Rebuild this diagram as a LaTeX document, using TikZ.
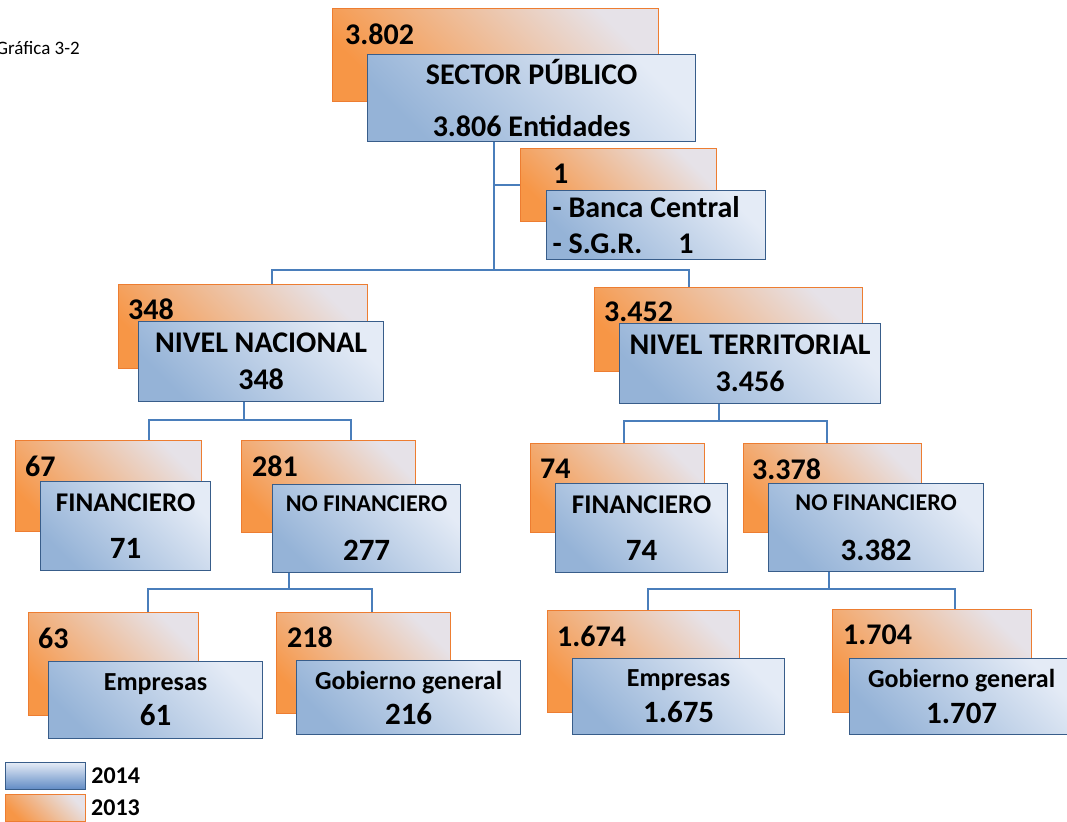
\documentclass[tikz,border=0pt]{standalone}
\usepackage{fontspec}
\setmainfont{Carlito}
\usetikzlibrary{positioning}
\definecolor{azulosc}{RGB}{149,179,215}
\definecolor{azulcla}{RGB}{228,235,246}
\definecolor{azulley}{RGB}{95,138,196}
\definecolor{azulbor}{RGB}{56,93,138}
\definecolor{naranjaosc}{RGB}{247,150,70}
\definecolor{naranjacla}{RGB}{230,226,232}
\definecolor{naranjabor}{RGB}{237,125,49}
\definecolor{linea}{RGB}{74,126,187}
\newcommand{\letra}[2]{\fontsize{#1}{#2}\selectfont\bfseries}
\tikzset{
  caja2014/.style={draw=azulbor, line width=1.2pt, top color=azulcla, bottom color=azulosc,
    shading angle=-45, anchor=north west, inner sep=0pt, align=center},
  caja2013/.style={draw=naranjabor, line width=1pt, top color=naranjacla, bottom color=naranjaosc,
    shading angle=-45, anchor=north west, inner sep=0pt},
  valor/.style={inner sep=0pt, font=\letra{30}{30}},
  conector/.style={draw=linea, line width=2pt}
}
\begin{document}
\begin{tikzpicture}[x=1pt,y=-1pt]
  \useasboundingbox (0,0) rectangle (1067,821);
  %titulo
  \node[anchor=west, inner sep=0pt, font=\fontsize{19}{19}\selectfont] (titulo) at (-4,48) {Gráfica 3-2};
  %puntos de union
  \coordinate (j0) at (494,270);
  \coordinate (j1) at (244,420);
  \coordinate (j2) at (719,421);
  \coordinate (j3) at (289,589);
  \coordinate (j4) at (829,589);
  %sector publico
  \node[caja2013, minimum width=326pt, minimum height=93pt] (o0) at (332,8) {};
  \node[valor, below right=16pt and 13pt of o0.north west] (v0) {3.802};
  \node[caja2014, minimum width=328pt, minimum height=87pt, font=\letra{30}{52}] (b0) at (367,54)
    {SECTOR PÚBLICO\\3.806 Entidades};
  %banca central
  \node[caja2013, minimum width=196pt, minimum height=73pt] (o1) at (520,148) {};
  \node[valor, below right=16pt and 33pt of o1.north west] (v1) {1};
  \node[caja2014, minimum width=219pt, minimum height=69pt, text width=207pt, inner xsep=6pt,
    align=flush left, font=\letra{30}{36}] (b1) at (546,190) {- Banca Central\\- S.G.R.\hspace*{36pt}1};
  %nivel nacional
  \node[caja2013, minimum width=249pt, minimum height=84pt] (o2) at (118,284) {};
  \node[valor, below right=15pt and 10pt of o2.north west] (v2) {348};
  \node[caja2014, minimum width=245pt, minimum height=80pt, font=\letra{30}{37}] (b2) at (138,321)
    {NIVEL NACIONAL\\348};
  %nivel territorial
  \node[caja2013, minimum width=268pt, minimum height=84pt] (o3) at (594,287) {};
  \node[valor, below right=15pt and 10pt of o3.north west] (v3) {3.452};
  \node[caja2014, minimum width=261pt, minimum height=80pt, font=\letra{30}{37}] (b3) at (619,323)
    {NIVEL TERRITORIAL\\3.456};
  %financiero nacional
  \node[caja2013, minimum width=186pt, minimum height=91pt] (o4) at (15,440) {};
  \node[valor, below right=16pt and 10pt of o4.north west] (v4) {67};
  \node[caja2014, minimum width=170pt, minimum height=89pt, font=\letra{31}{47}] (b4) at (40,481)
    {{\letra{27}{47}FINANCIERO}\\71};
  %no financiero nacional
  \node[caja2013, minimum width=174pt, minimum height=92pt] (o5) at (241,440) {};
  \node[valor, below right=16pt and 11pt of o5.north west] (v5) {281};
  \node[caja2014, minimum width=188pt, minimum height=88pt, font=\letra{31}{49}] (b5) at (272,484)
    {{\letra{24}{49}NO FINANCIERO}\\277};
  %financiero territorial
  \node[caja2013, minimum width=174pt, minimum height=89pt] (o6) at (530,443) {};
  \node[valor, below right=16pt and 10pt of o6.north west] (v6) {74};
  \node[caja2014, minimum width=172pt, minimum height=89pt, font=\letra{31}{47}] (b6) at (555,483)
    {{\letra{27}{47}FINANCIERO}\\74};
  %no financiero territorial
  \node[caja2013, minimum width=178pt, minimum height=89pt] (o7) at (743,443) {};
  \node[valor, below right=16pt and 9pt of o7.north west] (v7) {3.378};
  \node[caja2014, minimum width=215pt, minimum height=88pt, font=\letra{31}{50}] (b7) at (768,483)
    {{\letra{24}{50}NO FINANCIERO}\\3.382};
  %empresas nacional
  \node[caja2013, minimum width=170pt, minimum height=103pt] (o8) at (28,612) {};
  \node[valor, below right=16pt and 10pt of o8.north west] (v8) {63};
  \node[caja2014, minimum width=214pt, minimum height=77pt, font=\letra{31}{35}] (b8) at (48,661)
    {{\letra{26}{35}Empresas}\\61};
  %gobierno nacional
  \node[caja2013, minimum width=174pt, minimum height=101pt] (o9) at (276,612) {};
  \node[valor, below right=15pt and 11pt of o9.north west] (v9) {218};
  \node[caja2014, minimum width=224pt, minimum height=74pt, font=\letra{31}{35}] (b9) at (296,660)
    {{\letra{26}{35}Gobierno general}\\216};
  %empresas territorial
  \node[caja2013, minimum width=192pt, minimum height=102pt] (o10) at (547,610) {};
  \node[valor, below right=16pt and 10pt of o10.north west] (v10) {1.674};
  \node[caja2014, minimum width=212pt, minimum height=76pt, font=\letra{31}{36}] (b10) at (572,658)
    {{\letra{26}{36}Empresas}\\1.675};
  %gobierno territorial
  \node[caja2013, minimum width=199pt, minimum height=103pt] (o11) at (832,609) {};
  \node[valor, below right=16pt and 11pt of o11.north west] (v11) {1.704};
  \node[caja2014, minimum width=224pt, minimum height=76pt, font=\letra{31}{36}] (b11) at (849,658)
    {{\letra{26}{36}Gobierno general}\\1.707};
  %conectores
  \draw[conector] (b0.south -| j0) -- (j0);
  \draw[conector] (j0 |- o1.west) -- (o1.west);
  \draw[conector] ([xshift=28.5pt]o2.north) |- (j0) -| ([xshift=-40pt]o3.north);
  \draw[conector] (b2.south -| j1) -- (j1);
  \draw[conector] ([xshift=40pt]o4.north) |- (j1) -| ([xshift=22pt]o5.north);
  \draw[conector] (b3.south -| j2) -- (j2);
  \draw[conector] ([xshift=6pt]o6.north) |- (j2) -| ([xshift=-6pt]o7.north);
  \draw[conector] (b5.south -| j3) -- (j3);
  \draw[conector] ([xshift=34pt]o8.north) |- (j3) -| ([xshift=8pt]o9.north);
  \draw[conector] (b7.south -| j4) -- (j4);
  \draw[conector] ([xshift=4pt]o10.north) |- (j4) -| ([xshift=22.5pt]o11.north);
  %leyenda
  \node[caja2014, bottom color=azulley, minimum width=80pt, minimum height=27pt] (l14) at (5,762) {};
  \node[valor, font=\letra{24}{24}, right=5pt of l14] (t14) {2014};
  \node[caja2013, minimum width=80pt, minimum height=27pt] (l13) at (5,794) {};
  \node[valor, font=\letra{24}{24}, right=5pt of l13] (t13) {2013};
\end{tikzpicture}
\end{document}
